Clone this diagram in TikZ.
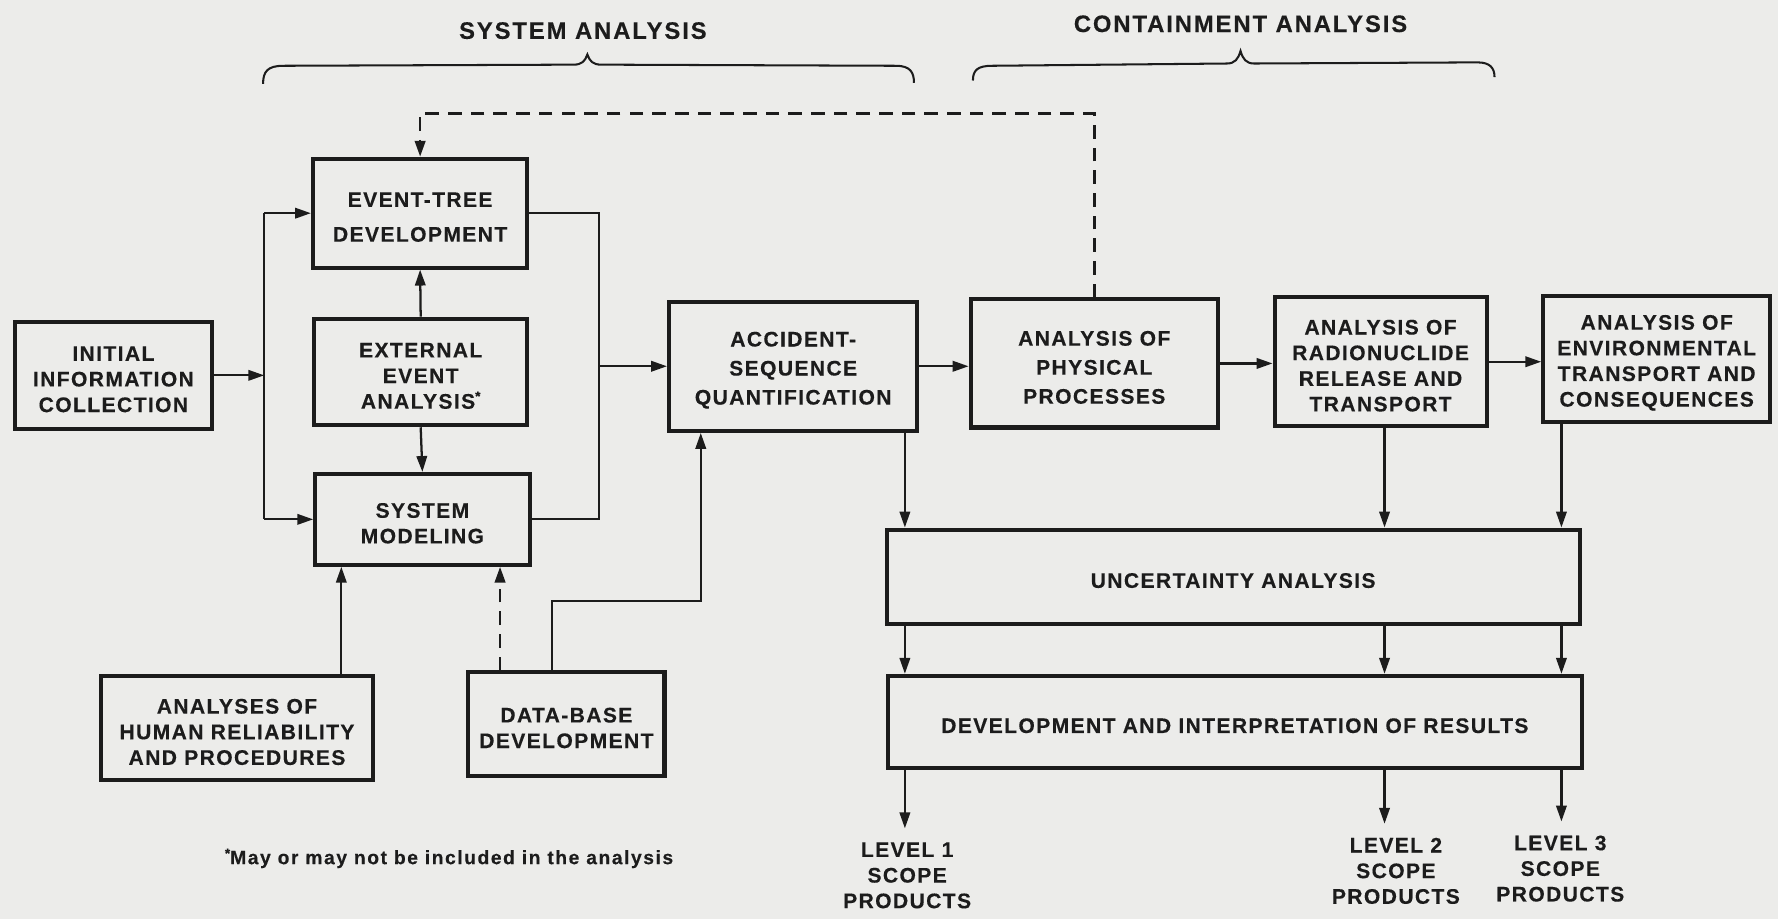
\documentclass[tikz,border=0pt]{standalone}
\usepackage{fontspec}
\setmainfont{Liberation Sans}
\newfontfamily\lblfont{Liberation Sans}[LetterSpace=6.5,FakeBold=0.3]
\newfontfamily\ttlfont{Liberation Sans}[LetterSpace=8,FakeBold=0.3]
\newfontfamily\notefont{Liberation Sans}[LetterSpace=8,FakeBold=0.3]
\usetikzlibrary{arrows.meta,calc}
\definecolor{bg}{RGB}{236,236,234}
\definecolor{ink}{RGB}{28,28,28}
\newcommand\mkbox[6]{%
  \pgfmathsetmacro\bw{(#4-#2)*0.5}%
  \pgfmathsetmacro\bh{(#5-#3)*0.5}%
  \node[box, minimum width=\bw pt, minimum height=\bh pt] (#1) at ({(#2+#4)/2},{(#3+#5)/2}) {};
  \node[boxtext] (#1-t) at ($(#1.center)+(0,3.5)$) {#6};}
\begin{document}
\begin{tikzpicture}[x=0.5pt,y=-0.5pt,
  box/.style={draw=ink, line width=1.8pt, inner sep=0pt},
  boxtext/.style={align=center, text=ink, inner sep=0pt,
    font=\lblfont\bfseries\fontsize{9.3}{11.3}\selectfont},
  lbl/.style={align=center, text=ink, inner sep=2pt,
    font=\lblfont\bfseries\fontsize{9.3}{11.3}\selectfont},
  ttl/.style={text=ink, font=\ttlfont\bfseries\fontsize{10.5}{12}\selectfont},
  conn/.style={draw=ink, line width=1pt},
  arr/.style={conn, -{Triangle[length=7pt,width=4.6pt]}},
  dsh/.style={line width=1.2pt, dash pattern=on 6pt off 4pt},
  brc/.style={draw=ink, line width=0.9pt}
]
\fill[bg] (0,0) rectangle (1568,810);
\useasboundingbox (0,0) rectangle (1568,810);

% titles and braces
\node[ttl] (tsys) at (514,27) {SYSTEM ANALYSIS};
\node[ttl] (tcon) at (1094,21) {CONTAINMENT ANALYSIS};
\draw[brc] (232,74) .. controls (232,63) and (236,58) .. (250,58) -- (506,57)
  .. controls (513,57) and (516,54) .. (518,48) .. controls (520,54) and (523,57) .. (530,57)
  -- (790,58) .. controls (803,58) and (806,64) .. (806,73);
\draw[brc] (858,71) .. controls (858,62) and (862,58) .. (875,58) -- (1082,56)
  .. controls (1089,56) and (1092,52) .. (1094,45) .. controls (1096,52) and (1099,56) .. (1106,56)
  -- (1303,55) .. controls (1314,55) and (1318,60) .. (1318,68);

% boxes
\mkbox{init}{13}{284}{187}{378}{INITIAL\\INFORMATION\\COLLECTION}
\mkbox{et}{276}{140}{465}{236}{EVENT-TREE\\[4pt]DEVELOPMENT}
\mkbox{ext}{277}{281}{465}{375}{EXTERNAL\\EVENT\\ANALYSIS\raisebox{0.7ex}{\fontsize{6}{6}\selectfont *}}
\mkbox{sm}{278}{418}{467}{498}{SYSTEM\\MODELING}
\mkbox{hum}{89}{596}{329}{688}{ANALYSES OF\\HUMAN RELIABILITY\\AND PROCEDURES}
\mkbox{db}{413}{593}{586}{684}{DATA-BASE\\DEVELOPMENT}
\mkbox{acc}{590}{266}{809}{380}{ACCIDENT-\\[1.5pt]SEQUENCE\\[1.5pt]QUANTIFICATION}
\mkbox{phys}{856}{264}{1074}{377}{ANALYSIS OF\\[1.5pt]PHYSICAL\\[1.5pt]PROCESSES}
\mkbox{rad}{1124}{262}{1311}{376}{ANALYSIS OF\\RADIONUCLIDE\\RELEASE AND\\TRANSPORT}
\mkbox{env}{1361}{261}{1561}{372}{ANALYSIS OF\\ENVIRONMENTAL\\TRANSPORT AND\\CONSEQUENCES}
\mkbox{unc}{782}{467}{1393}{550}{UNCERTAINTY ANALYSIS}
\mkbox{dev}{783}{596}{1395}{677}{DEVELOPMENT AND INTERPRETATION OF RESULTS}

% output labels
\node[lbl] (lv1) at (800,772) {LEVEL 1\\SCOPE\\PRODUCTS};
\node[lbl] (lv2) at (1231,768) {LEVEL 2\\SCOPE\\PRODUCTS};
\node[lbl] (lv3) at (1376,766) {LEVEL 3\\SCOPE\\PRODUCTS};

% footnote
\node[text=ink, font=\notefont\bfseries\fontsize{8.5}{9}\selectfont] (note) at (396,757)
  {\raisebox{0.6ex}{\fontsize{6}{6}\selectfont *}May or may not be included in the analysis};

% helper coordinates
\coordinate (vl) at (233,0);
\coordinate (vr) at (528,0);
\coordinate (xh) at (301,0);
\coordinate (xd) at (441,0);
\coordinate (xa) at (487,0);
\coordinate (xq) at (618,0);
\coordinate (yb) at (0,530);
\coordinate (yt) at (0,100);
\coordinate (L1) at (798,0);
\coordinate (L2) at (1221,0);
\coordinate (L3) at (1377,0);

% left side connectors
\draw[arr] (init.east) -- (init.east -| vl);
\draw[conn] (vl |- et.west) -- (vl |- sm.west);
\draw[arr] (vl |- et.west) -- (et.west);
\draw[arr] (vl |- sm.west) -- (sm.west);
\draw[conn] (et.east) -- (vr |- et.east) -- (vr |- sm.east) -- (sm.east);
\draw[arr] (vr |- acc.west) -- (acc.west);
\draw[arr] (ext.north) -- (et.south);
\draw[arr] (ext.south) -- (sm.north);
\draw[arr] (hum.north -| xh) -- (sm.south -| xh);
\draw[arr, dsh] (db.north -| xd) -- (sm.south -| xd);
\draw[arr] (db.north -| xa) -- (xa |- yb) -- (xq |- yb) -- (acc.south -| xq);

% feedback dashed line
\draw[arr, dsh] (phys.north) -- (phys.north |- yt) -- (et.north |- yt) -- (et.north);

% main chain
\draw[arr] (acc.east) -- (acc.east -| phys.west);
\draw[arr] (phys.east) -- (phys.east -| rad.west);
\draw[arr] (rad.east) -- (rad.east -| env.west);

% down to uncertainty
\draw[arr] (acc.south -| L1) -- (unc.north -| L1);
\draw[arr] (rad.south -| L2) -- (unc.north -| L2);
\draw[arr] (env.south -| L3) -- (unc.north -| L3);
\draw[arr] (unc.south -| L1) -- (dev.north -| L1);
\draw[arr] (unc.south -| L2) -- (dev.north -| L2);
\draw[arr] (unc.south -| L3) -- (dev.north -| L3);
\draw[arr, shorten >=4pt] (dev.south -| L1) -- (lv1.north -| L1);
\draw[arr, shorten >=4pt] (dev.south -| L2) -- (lv2.north -| L2);
\draw[arr, shorten >=4pt] (dev.south -| L3) -- (lv3.north -| L3);
\end{tikzpicture}
\end{document}
